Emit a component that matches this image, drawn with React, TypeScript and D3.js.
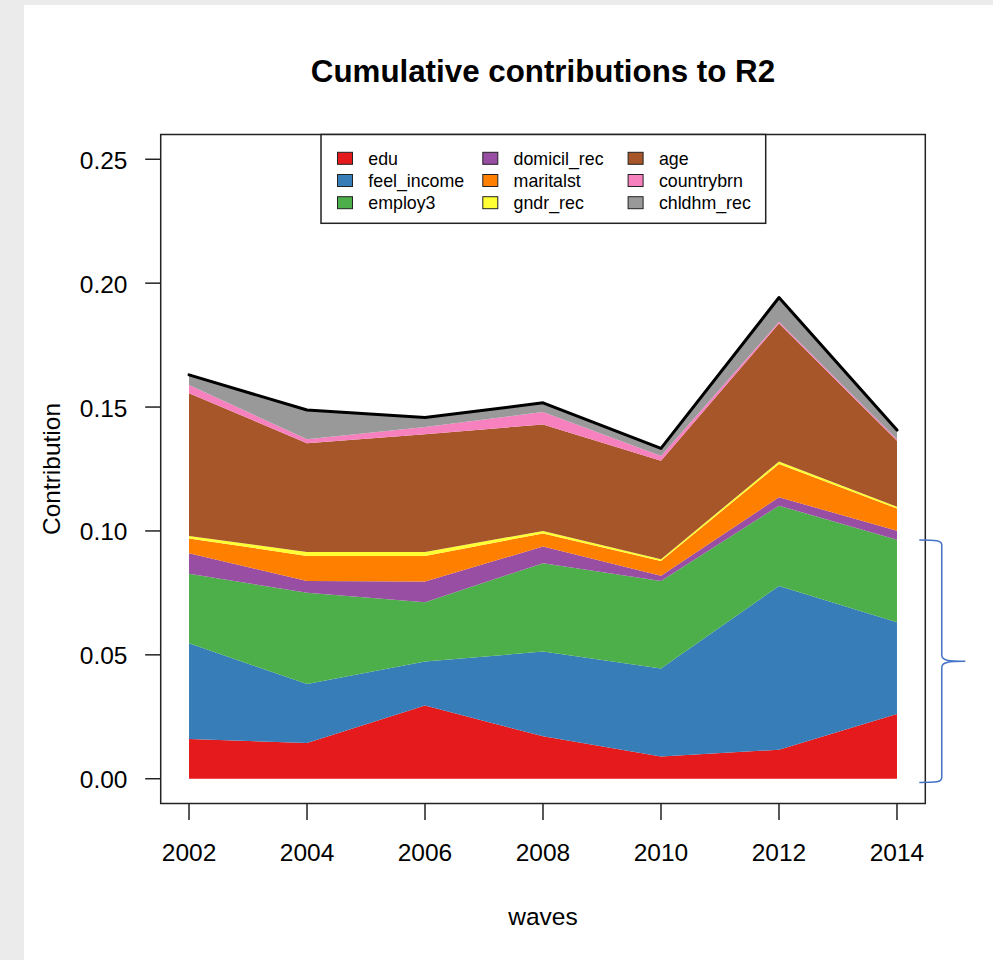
import React from 'react'
import * as d3 from 'd3'

// waves (x axis)
const waves = [2002, 2004, 2006, 2008, 2010, 2012, 2014]

// contribution of each predictor per wave
const edu = [0.016, 0.0144, 0.0296, 0.0171, 0.009, 0.0117, 0.0261]
const feel_income = [0.0387, 0.0238, 0.0177, 0.0342, 0.0355, 0.0661, 0.0371]
const employ3 = [0.028, 0.0369, 0.0239, 0.0357, 0.0353, 0.0324, 0.0332]
const domicil_rec = [0.0083, 0.0047, 0.0084, 0.0067, 0.0021, 0.0034, 0.0037]
const maritalst = [0.006, 0.0101, 0.0103, 0.0053, 0.006, 0.0134, 0.009]
const gndr_rec = [0.001, 0.0016, 0.0016, 0.001, 0.0007, 0.001, 0.0007]
const age = [0.0576, 0.0439, 0.0475, 0.043, 0.0397, 0.0557, 0.0266]
const countrybrn = [0.0033, 0.0016, 0.003, 0.005, 0.0019, 0.0007, 0.0006]
const chldhm_rec = [0.0041, 0.0118, 0.0038, 0.0037, 0.0031, 0.0098, 0.0037]

const varNames = ['edu', 'feel_income', 'employ3', 'domicil_rec', 'maritalst', 'gndr_rec', 'age', 'countrybrn', 'chldhm_rec']
const varValues = [edu, feel_income, employ3, domicil_rec, maritalst, gndr_rec, age, countrybrn, chldhm_rec]
const colors = ['#E41A1C', '#377EB8', '#4DAF4A', '#984EA3', '#FF7F00', '#FFFF33', '#A65628', '#F781BF', '#999999']

const yTicks = [0, 0.05, 0.1, 0.15, 0.2, 0.25]

// annotation brace on the right (value range it spans)
const braceRange = [-0.0015, 0.0963]

const W = 993
const H = 960
const font = '"Liberation Sans", Arial, sans-serif'

export default function App() {
  const box = {left: 160.7, right: 925.3, top: 134.5, bottom: 803.5}

  const x = d3.scaleLinear().domain([2002 - 0.48, 2014 + 0.48]).range([box.left, box.right])
  const y = d3.scaleLinear().domain([-0.01, 0.26]).range([box.bottom, box.top])

  const table = waves.map((w, i) => {
    const row: any = {wave: w}
    varNames.forEach((n, k) => { row[n] = varValues[k][i] })
    return row
  })
  const series = d3.stack().keys(varNames)(table)

  const area = d3.area<any>()
    .x(d => x(d.data.wave))
    .y0(d => y(d[0]))
    .y1(d => y(d[1]))

  const totals = table.map(r => ({wave: r.wave, total: d3.sum(varNames, n => r[n])}))
  const topLine = d3.line<any>()
    .x(d => x(d.wave))
    .y(d => y(d.total))

  // brace geometry
  const bTop = y(braceRange[1])
  const bBot = y(braceRange[0])
  const bMid = (bTop + bBot) / 2
  const bx0 = box.right - 6
  const bx1 = box.right + 16.5
  const bx2 = box.right + 40
  const brace = `M${bx0},${bTop} C${bx1 - 6},${bTop} ${bx1},${bTop} ${bx1},${bTop + 5}
    L${bx1},${bMid - 6} C${bx1},${bMid - 1} ${bx1 + 6},${bMid} ${bx2},${bMid}
    C${bx1 + 6},${bMid} ${bx1},${bMid + 1} ${bx1},${bMid + 6}
    L${bx1},${bBot - 5} C${bx1},${bBot} ${bx1 - 6},${bBot} ${bx0},${bBot}`

  const legX = 321
  const legY = box.top
  const colW = 145.3
  const rowH = 22.2

  return (
    <div style={{position: 'absolute', left: 0, top: 0}}>
      <svg width={W} height={H} style={{display: 'block'}}>
        <rect x={0} y={0} width={W} height={H} fill="#EBEBEB" />
        <rect x={24} y={5} width={W - 24} height={H - 5} fill="#FFFFFF" />

        <text x={543} y={81.5} textAnchor="middle" fontFamily={font} fontWeight="bold" fontSize={31.3} fill="#000">
          Cumulative contributions to R2
        </text>

        {series.map((s, k) => (
          <path key={varNames[k]} d={area(s as any) || ''} fill={colors[k]} stroke="none" />
        ))}

        <path d={topLine(totals) || ''} fill="none" stroke="#000" strokeWidth={3} strokeLinejoin="round" strokeLinecap="round" />

        {/* plot box */}
        <rect x={box.left} y={box.top} width={box.right - box.left} height={box.bottom - box.top}
          fill="none" stroke="#222" strokeWidth={1.5} />

        {/* y axis */}
        {yTicks.map(t => (
          <g key={t}>
            <line x1={box.left - 15.5} x2={box.left} y1={y(t)} y2={y(t)} stroke="#222" strokeWidth={1.5} />
            <text x={127.5} y={y(t) + 9.5} textAnchor="end" fontFamily={font} fontSize={24.5} fill="#000">
              {t.toFixed(2)}
            </text>
          </g>
        ))}
        <text transform={`translate(${59.5},${(box.top + box.bottom) / 2}) rotate(-90)`} textAnchor="middle"
          fontFamily={font} fontSize={24.5} fill="#000">Contribution</text>

        {/* x axis */}
        {waves.map(w => (
          <g key={w}>
            <line x1={x(w)} x2={x(w)} y1={box.bottom} y2={box.bottom + 16.5} stroke="#222" strokeWidth={1.5} />
            <text x={x(w)} y={861} textAnchor="middle" fontFamily={font} fontSize={24.5} fill="#000">{w}</text>
          </g>
        ))}
        <text x={543} y={925} textAnchor="middle" fontFamily={font} fontSize={24.5} fill="#000">waves</text>

        {/* legend */}
        <rect x={legX} y={legY} width={444.7} height={88.8} fill="#fff" stroke="#222" strokeWidth={1.5} />
        {varNames.map((n, k) => {
          const col = Math.floor(k / 3)
          const row = k % 3
          const cy = legY + 23.8 + row * rowH
          return (
            <g key={n}>
              <rect x={legX + 16.5 + col * colW} y={cy - 6} width={15} height={12} fill={colors[k]} stroke="#222" strokeWidth={1} />
              <text x={legX + 47.3 + col * colW} y={cy + 6.3} fontFamily={font} fontSize={17.8} fill="#000">{n}</text>
            </g>
          )
        })}

        {/* annotation brace */}
        <path d={brace} fill="none" stroke="#4472C4" strokeWidth={1.5} />
      </svg>
    </div>
  )
}
